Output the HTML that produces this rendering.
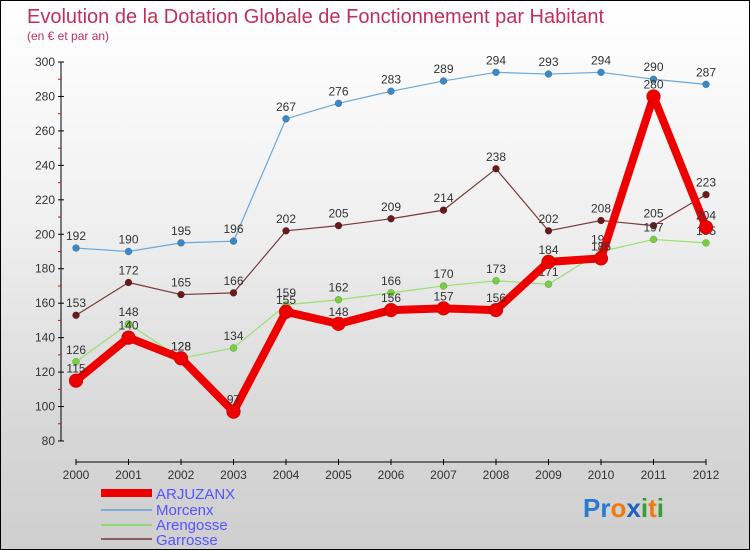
<!DOCTYPE html>
<html><head><meta charset="utf-8"><style>
body{margin:0}
#c{width:748px;height:548px;border:1px solid #000;background:linear-gradient(#fff,#f0f0f0 40%,#d6d6d6 80%,#cfcfcf);position:relative;overflow:hidden;font-family:"Liberation Sans",sans-serif}
text{font-family:"Liberation Sans",sans-serif}
</style></head><body>
<div id="c">
<svg id="s" width="748" height="548">
<text x="26" y="22" font-size="20" fill="#c0305a">Evolution de la Dotation Globale de Fonctionnement par Habitant</text>
<text x="26" y="39" font-size="12" fill="#c0305a">(en € et par an)</text>
<g id="legend">
<rect x="100" y="488" width="51" height="8" fill="#e00"/>
<text x="155" y="498" font-size="15" fill="#55f">ARJUZANX</text>
<rect x="100" y="508" width="51" height="2" fill="#7ab0d8"/>
<text x="155" y="514" font-size="15" fill="#55f">Morcenx</text>
<rect x="100" y="523" width="51" height="2" fill="#90d870"/>
<text x="155" y="529" font-size="15" fill="#55f">Arengosse</text>
<rect x="100" y="537" width="51" height="2" fill="#906060"/>
<text x="155" y="544" font-size="15" fill="#55f">Garrosse</text>
</g>
<text x="582" y="516" font-size="26" font-weight="bold"><tspan fill="#2a7ad0">Pr</tspan><tspan fill="#f07a10">o</tspan><tspan fill="#2060c0">x</tspan><tspan fill="#30a030">i</tspan><tspan fill="#f07a10">t</tspan><tspan fill="#30a030">i</tspan></text>
</svg>
</div>
<script>
const years=[2000,2001,2002,2003,2004,2005,2006,2007,2008,2009,2010,2011,2012];
const yTicks=[80,100,120,140,160,180,200,220,240,260,280,300];
const arjuzanx=[115,140,128,97,155,148,156,157,156,184,186,280,204];
const morcenx=[192,190,195,196,267,276,283,289,294,293,294,290,287];
const arengosse=[126,148,128,134,159,162,166,170,173,171,190,197,195];
const garrosse=[153,172,165,166,202,205,209,214,238,202,208,205,223];
const NS="http://www.w3.org/2000/svg",s=document.getElementById('s');
const X=i=>75+i*(705-75)/(years.length-1);
const Y=v=>440-(v-80)*(440-61)/(300-80);
function el(t,a,p){const e=document.createElementNS(NS,t);for(const k in a)e.setAttribute(k,a[k]);(p||s).appendChild(e);return e;}
const ax=el('g',{});


el('line',{x1:60,y1:61,x2:60,y2:440,stroke:'#000'},ax);
yTicks.forEach((v,i)=>{
 el('line',{x1:57,y1:Y(v),x2:63,y2:Y(v),stroke:'#000'},ax);
 if(i<yTicks.length-1) el('line',{x1:57,y1:Y(v+10),x2:60,y2:Y(v+10),stroke:'#e00'},ax);
 const t=el('text',{x:54,y:Y(v)+4,'font-size':12,'text-anchor':'end',fill:'#333'},ax);
 
 
 t.textContent=v;
});
el('line',{x1:75,y1:461,x2:705,y2:461,stroke:'#000'},ax);
years.forEach((y,i)=>{
 el('line',{x1:X(i),y1:458,x2:X(i),y2:464,stroke:'#000'},ax);
 const t=el('text',{x:X(i),y:478,'font-size':12,'text-anchor':'middle',fill:'#333'},ax);
 
 
 t.textContent=y;
});
function series(name,d,col,dot,w,r){
 const g=el('g',{});
 
 
 el('polyline',{points:d.map((v,i)=>X(i)+','+Y(v)).join(' '),fill:'none',stroke:col,'stroke-width':w,'stroke-linejoin':'round'},g);
 d.forEach((v,i)=>{
  const c=el('circle',{cx:X(i),cy:Y(v),r:r,fill:dot,stroke:'rgba(0,0,0,0.3)','stroke-width':0.5},g);
  
  
  const t=el('text',{x:X(i),y:Y(v)-8,'font-size':12,'text-anchor':'middle',fill:'#333'},g);
  
  
  t.textContent=v;
 });
}
series('morcenx',morcenx,'#6aa8d8','#3a88c8',1.2,3.5);
series('garrosse',garrosse,'#7a3a3a','#6a1a1a',1.2,3.5);
series('arengosse',arengosse,'#98e070','#78d040',1.2,3.5);
series('arjuzanx',arjuzanx,'#e00','#e00',8,7);
</script>
</body></html>
